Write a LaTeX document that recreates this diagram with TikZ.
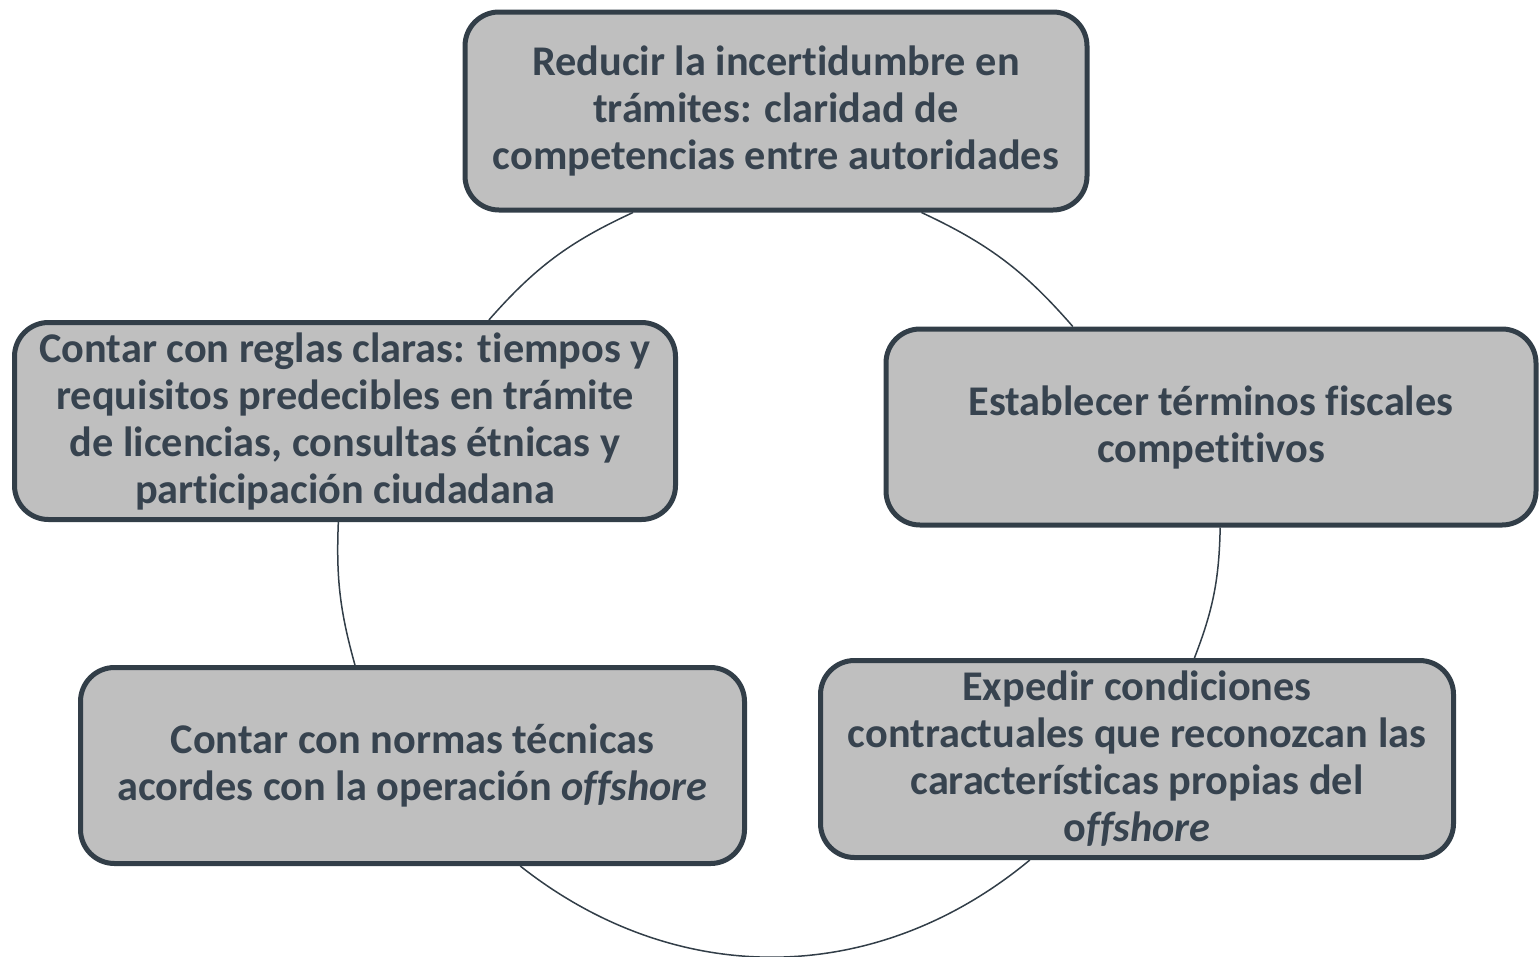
\documentclass[tikz,border=0pt]{standalone}
\usepackage{fontspec}
\setmainfont{Carlito}[Ligatures=NoCommon]
\usepackage{tikz}
\usetikzlibrary{calc}
\usetikzlibrary{positioning}

\definecolor{boxfill}{HTML}{BFBFBF}
\definecolor{boxline}{HTML}{323E48}
\definecolor{boxtext}{HTML}{37434F}

\tikzset{
  cycbox/.style={rectangle, draw=boxline, fill=boxfill, line width=5pt,
    rounded corners=34pt, align=center, text=boxtext, inner sep=0pt,
    font=\bfseries\fontsize{42.3}{47}\selectfont},
  cycarc/.style={draw=boxline, line width=1.5pt}
}

\begin{document}
\begin{tikzpicture}[x=1pt, y=-1pt]
\useasboundingbox (0,0) rectangle (1539,956);

\node [cycbox, minimum width=622pt, minimum height=198pt] (T) at (776, 111)
  {Reducir la incertidumbre en\\trámites: claridad de\\competencias entre autoridades};
\node [cycbox, minimum width=650pt, minimum height=196pt] (R) at (1211, 427)
  {Establecer términos fiscales\\competitivos};
\node [cycbox, minimum width=633pt, minimum height=197pt] (BR) at (1137, 759)
  {Expedir condiciones\\contractuales que reconozcan las\\características propias del\\o\textit{ffshore}};
\node [cycbox, minimum width=664pt, minimum height=196pt] (BL) at (412.5, 765.5)
  {Contar con normas técnicas\\acordes con la operación \textit{offshore}};
\node [cycbox, minimum width=661pt, minimum height=197pt] (L) at (345, 421)
  {Contar con reglas claras: tiempos y\\requisitos predecibles en trámite\\de licencias, consultas étnicas y\\participación ciudadana};

% arcs of the cycle, clockwise
\draw [cycarc] ($(T.south west)!0.732!(T.south east)$) to [bend left=12] ($(R.north west)!0.289!(R.north east)$);
\draw [cycarc] ($(R.south west)!0.514!(R.south east)$) to [bend left=10] ($(BR.north west)!0.59!(BR.north east)$);
\draw [cycarc] ($(BR.south west)!0.332!(BR.south east)$) to [bend left=39] ($(BL.south west)!0.661!(BL.south east)$);
\draw [cycarc] ($(BL.north west)!0.414!(BL.north east)$) to [bend left=9] ($(L.south west)!0.49!(L.south east)$);
\draw [cycarc] ($(L.north west)!0.716!(L.north east)$) to [bend left=12] ($(T.south west)!0.272!(T.south east)$);
\end{tikzpicture}
\end{document}
